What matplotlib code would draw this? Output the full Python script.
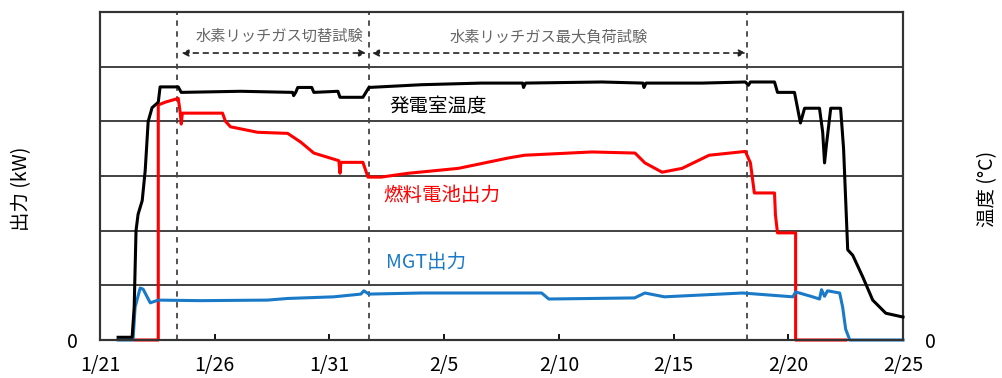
import matplotlib.pyplot as plt

plt.rcParams['font.family'] = ['Noto Sans CJK JP', 'DejaVu Sans']

# days counted from 1/21, values in grid-band units (0..6)
temp_x = [0.79, 1.40, 1.49, 1.57, 1.66, 1.84, 1.97, 2.10, 2.27, 2.54, 2.62, 3.41, 3.54,
          6.12, 8.40, 8.44, 8.53, 8.62, 9.23, 9.32, 10.37, 10.46, 11.46, 11.72, 14.0,
          16.62, 18.42, 18.46, 18.55, 21.87, 23.67, 23.71, 23.80, 26.25, 28.13, 28.26,
          28.35, 29.40, 29.53, 30.27, 30.53, 30.71, 31.36, 31.50, 31.58, 31.67, 31.85,
          32.28, 32.41, 32.59, 32.81, 33.25, 33.68, 34.25, 35.0]
temp_y = [0.05, 0.05, 0.6, 2.0, 2.3, 2.55, 3.1, 4.0, 4.25, 4.35, 4.63, 4.63, 4.53,
          4.55, 4.53, 4.47, 4.53, 4.62, 4.62, 4.53, 4.55, 4.44, 4.44, 4.62, 4.67,
          4.70, 4.70, 4.62, 4.70, 4.72, 4.70, 4.62, 4.70, 4.70, 4.72, 4.66,
          4.72, 4.72, 4.53, 4.53, 3.97, 4.24, 4.24, 3.8, 3.24, 3.6, 4.24,
          4.24, 3.5, 1.65, 1.55, 1.15, 0.73, 0.49, 0.42]

fc_x = [1.53, 2.54, 2.54, 2.84, 3.41, 3.50, 3.54, 3.59, 5.34, 5.47, 5.69, 6.87, 8.18,
        8.75, 9.32, 10.41, 10.46, 10.50, 11.46, 11.68, 12.25, 13.43, 15.62, 17.80,
        18.50, 21.43, 23.32, 23.75, 24.50, 25.37, 26.55, 28.13, 28.35, 28.52, 29.40,
        29.44, 29.53, 30.32, 30.32, 32.5]
fc_y = [0, 0, 4.3, 4.35, 4.42, 4.15, 3.95, 4.15, 4.15, 4.0, 3.9, 3.8, 3.78,
        3.62, 3.42, 3.28, 3.05, 3.25, 3.25, 2.98, 2.98, 3.05, 3.14, 3.33,
        3.38, 3.44, 3.42, 3.24, 3.07, 3.14, 3.38, 3.45, 3.24, 2.69, 2.69,
        2.29, 1.96, 1.96, 0, 0]

mgt_x = [0.79, 1.44, 1.53, 1.75, 1.88, 2.19, 2.54, 4.37, 7.30, 8.18, 10.19, 11.37,
         11.50, 11.72, 14.0, 19.25, 19.56, 23.30, 23.75, 24.60, 28.0, 30.20, 30.32,
         31.06, 31.36, 31.45, 31.58, 31.71, 32.24, 32.37, 32.50, 32.68, 35.0]
mgt_y = [0.0, 0.0, 0.6, 0.95, 0.93, 0.68, 0.73, 0.72, 0.73, 0.76, 0.79, 0.84,
         0.90, 0.84, 0.86, 0.86, 0.75, 0.77, 0.86, 0.79, 0.86, 0.79, 0.88,
         0.79, 0.75, 0.92, 0.80, 0.90, 0.86, 0.6, 0.2, 0.0, 0.0]

tick_days = [0, 5, 10, 15, 20, 25, 30, 35]
tick_labels = ['1/21', '1/26', '1/31', '2/5', '2/10', '2/15', '2/20', '2/25']
phase_days = [3.37, 11.72, 28.2]
phase_names = ['水素リッチガス切替試験', '水素リッチガス最大負荷試験']

fig = plt.figure(figsize=(10.03, 3.78), dpi=100)
ax = fig.add_axes([0.0997, 0.1005, 0.8006, 0.8677])
ax2 = ax.twinx()

ax.set_xlim(0, 35)
ax.set_ylim(0, 6)
ax2.set_ylim(0, 6)

# horizontal grid bands
ax.set_yticks(range(7))
ax.set_yticklabels(['0', '', '', '', '', '', ''], fontsize=14)
ax.tick_params(axis='y', length=0, pad=16)
ax.grid(axis='y', color='#333333', lw=1.3)
ax2.set_yticks([0])
ax2.set_yticklabels(['0'], fontsize=14)
ax2.tick_params(axis='y', length=0, pad=16)

ax.set_xticks(tick_days)
ax.set_xticklabels(tick_labels, fontsize=14)
ax.tick_params(axis='x', direction='in', length=4, width=1.3, pad=11)

for sp in list(ax.spines.values()) + list(ax2.spines.values()):
    sp.set_color('#333333')
    sp.set_linewidth(1.5)

for d in phase_days:
    ax.axvline(d, color='#444444', ls=(0, (3, 3)), lw=1.3, zorder=2)

ax.plot(fc_x, fc_y, color='#ff0000', lw=2.2, zorder=3, clip_on=False)
ax.plot(mgt_x, mgt_y, color='#1a7ac8', lw=2.2, zorder=4, clip_on=False)
ax2.plot(temp_x, temp_y, color='black', lw=2.2, zorder=3, clip_on=False)

# phase arrows
arrow_kw = dict(arrowstyle='<|-|>', ls=(0, (3, 3)), color='#222222', lw=1.2,
                mutation_scale=10, shrinkA=0, shrinkB=0)
ax.annotate('', xy=(11.6, 5.25), xytext=(3.55, 5.25), arrowprops=arrow_kw)
ax.annotate('', xy=(28.15, 5.25), xytext=(11.85, 5.25), arrowprops=arrow_kw)
ax.text(7.8, 5.55, phase_names[0], ha='center', va='center', fontsize=11, color='#666666')
ax.text(19.55, 5.55, phase_names[1], ha='center', va='center', fontsize=11, color='#666666')

ax.text(12.6, 4.26, '発電室温度', fontsize=14, color='black', va='center')
ax.text(12.34, 2.65, '燃料電池出力', fontsize=14, color='#ff0000', va='center')
ax.text(12.47, 1.41, 'MGT出力', fontsize=14, color='#1a7ac8', va='center')

fig.text(0.022, 0.5, '出力 (kW)', rotation=90, ha='center', va='center', fontsize=14)
fig.text(0.985, 0.5, '温度 (°C)', rotation=90, ha='center', va='center', fontsize=14)

fig.savefig('out.png', dpi=100)
